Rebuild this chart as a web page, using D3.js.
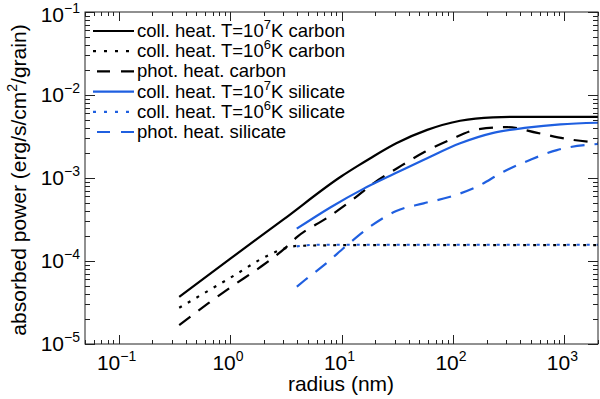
<!DOCTYPE html>
<html>
<head>
<meta charset="utf-8">
<script src="https://cdn.jsdelivr.net/npm/d3@7"></script>
<style>
  body { margin: 0; background: #fff; }
  svg text { font-family: "Liberation Sans", Arial, sans-serif; fill: #000; }
</style>
</head>
<body>
<svg id="chart" width="600" height="399"></svg>
<script>
// Data (radius in nm, absorbed power in erg/s/cm^2/grain)
var carbonColl7R = [0.35, 1, 3, 10, 14, 18, 31, 58.7, 116, 229, 400, 2000];
var carbonColl7P = [3.7e-5, 1.06e-4, 3.15e-4, 1.05e-3, 1.4e-3, 1.72e-3, 2.62e-3, 3.8e-3, 4.9e-3, 5.38e-3, 5.45e-3, 5.45e-3];

var carbonColl6R = [0.35, 1, 2.23, 3.1, 4, 10, 2000];
var carbonColl6P = [2.73e-5, 6.25e-5, 1.18e-4, 1.42e-4, 1.52e-4, 1.55e-4, 1.55e-4];

var carbonPhotR = [0.35, 0.64, 1.05, 1.79, 3.25, 4.0, 7.4, 12.4, 19.5, 31.3, 56, 94, 165, 307, 570, 1060, 2000];
var carbonPhotP = [1.69e-5, 3.1e-5, 5.0e-5, 8.1e-5, 1.5e-4, 1.95e-4, 3.3e-4, 5.4e-4, 8.7e-4, 1.3e-3, 2.07e-3, 2.88e-3, 3.85e-3, 4.1e-3, 3.5e-3, 2.95e-3, 2.66e-3];

var silColl7R = [3.97, 8, 15.7, 30, 58, 116, 230, 460, 920, 2000];
var silColl7P = [2.45e-4, 4.45e-4, 7.4e-4, 1.13e-3, 1.72e-3, 2.62e-3, 3.5e-3, 4.04e-3, 4.43e-3, 4.63e-3];

var silColl6R = [3.97, 6, 2000];
var silColl6P = [1.5e-4, 1.57e-4, 1.57e-4];

var silPhotR = [3.97, 4.7, 7.1, 11.2, 18.4, 31, 54.5, 94.5, 164, 284, 490, 855, 2000];
var silPhotP = [4.9e-5, 5.9e-5, 9.1e-5, 1.55e-4, 2.64e-4, 4.0e-4, 4.95e-4, 5.95e-4, 7.85e-4, 1.19e-3, 1.65e-3, 2.17e-3, 2.57e-3];

var xTickExps = [-1, 0, 1, 2, 3];
var yTickExps = [-5, -4, -3, -2, -1];

var legendLabels = [
  ["coll. heat. T=10", "7", "K carbon"],
  ["coll. heat. T=10", "6", "K carbon"],
  ["phot. heat. carbon"],
  ["coll. heat. T=10", "7", "K silicate"],
  ["coll. heat. T=10", "6", "K silicate"],
  ["phot. heat. silicate"]
];

var black = "#000", blue = "#1f5fe0";
var solidDash = null, dotDash = "3,7", longDash = "14,10";

var series = [
  { r: carbonColl7R, p: carbonColl7P, color: black, dash: solidDash },
  { r: carbonColl6R, p: carbonColl6P, color: black, dash: dotDash },
  { r: carbonPhotR, p: carbonPhotP, color: black, dash: longDash },
  { r: silColl7R, p: silColl7P, color: blue, dash: solidDash },
  { r: silColl6R, p: silColl6P, color: blue, dash: dotDash },
  { r: silPhotR, p: silPhotP, color: blue, dash: longDash }
];

var svg = d3.select("#chart");
var plotLeft = 85, plotRight = 598, plotTop = 12, plotBottom = 344;

var x = d3.scaleLog().domain([0.05, 2000]).range([plotLeft, plotRight]);
var y = d3.scaleLog().domain([1e-5, 1e-1]).range([plotBottom, plotTop]);

// Curves
var line = d3.line()
    .x(function(d) { return x(d[0]); })
    .y(function(d) { return y(d[1]); })
    .curve(d3.curveMonotoneX);

var plot = svg.append("g");
series.forEach(function(s) {
  var pts = s.r.map(function(r, i) { return [r, s.p[i]]; });
  plot.append("path")
      .attr("d", line(pts))
      .attr("fill", "none")
      .attr("stroke", s.color)
      .attr("stroke-width", 2.2)
      .attr("stroke-dasharray", s.dash);
});

// Frame and inward ticks
var axes = svg.append("g").attr("stroke", "#222").attr("stroke-width", 1);
axes.append("rect")
    .attr("x", plotLeft).attr("y", plotTop)
    .attr("width", plotRight - plotLeft).attr("height", plotBottom - plotTop)
    .attr("fill", "none");

function logTicks(domain) {
  var out = [];
  for (var e = -6; e <= 4; e++) {
    for (var m = 1; m <= 9; m++) {
      var v = m * Math.pow(10, e);
      if (v >= domain[0] * 0.999 && v <= domain[1] * 1.001) out.push({ v: v, major: m === 1 });
    }
  }
  return out;
}

logTicks(x.domain()).forEach(function(t) {
  var len = t.major ? 9 : 4, xx = Math.round(x(t.v)) + 0.5;
  axes.append("line").attr("x1", xx).attr("x2", xx).attr("y1", plotBottom).attr("y2", plotBottom - len);
  axes.append("line").attr("x1", xx).attr("x2", xx).attr("y1", plotTop).attr("y2", plotTop + len);
});
logTicks(y.domain()).forEach(function(t) {
  var len = t.major ? 10 : 5, yy = Math.round(y(t.v)) + 0.5;
  axes.append("line").attr("y1", yy).attr("y2", yy).attr("x1", plotLeft).attr("x2", plotLeft + len);
  axes.append("line").attr("y1", yy).attr("y2", yy).attr("x1", plotRight).attr("x2", plotRight - len);
});

// Tick labels
function powLabel(g, exp) {
  g.append("tspan").text("10");
  g.append("tspan").attr("dy", -9).attr("font-size", 14)
      .text(exp < 0 ? "\u2212" + (-exp) : String(exp));
}
xTickExps.forEach(function(e) {
  var t = svg.append("text")
      .attr("x", x(Math.pow(10, e)) - 2).attr("y", 370)
      .attr("text-anchor", "middle").attr("font-size", 21);
  powLabel(t, e);
});
yTickExps.forEach(function(e) {
  var t = svg.append("text")
      .attr("x", 80).attr("y", Math.max(y(Math.pow(10, e)) + 7, 22))
      .attr("text-anchor", "end").attr("font-size", 21);
  powLabel(t, e);
});

// Axis titles
svg.append("text")
    .attr("x", 341).attr("y", 391)
    .attr("text-anchor", "middle").attr("font-size", 21)
    .text("radius (nm)");

var yt = svg.append("text")
    .attr("transform", "translate(26,180) rotate(-90)")
    .attr("text-anchor", "middle").attr("font-size", 21);
yt.append("tspan").text("absorbed power (erg/s/cm");
yt.append("tspan").attr("dy", -9).attr("font-size", 14).text("2");
yt.append("tspan").attr("dy", 9).text("/grain)");

// Legend
var legend = svg.append("g");
legendLabels.forEach(function(lab, i) {
  var cy = 31 + i * 20.2, s = series[i];
  legend.append("line")
      .attr("x1", 93).attr("x2", 134).attr("y1", cy).attr("y2", cy)
      .attr("stroke", s.color).attr("stroke-width", 2.2)
      .attr("stroke-dasharray", s.dash === longDash ? "0,4,13,11,13" : s.dash === dotDash ? "3,8" : null);
  var t = legend.append("text").attr("x", 137).attr("y", cy + 6).attr("font-size", 18.5);
  t.append("tspan").text(lab[0]);
  if (lab.length > 1) {
    t.append("tspan").attr("dy", -8).attr("font-size", 13).text(lab[1]);
    t.append("tspan").attr("dy", 8).text(lab[2]);
  }
});
</script>
</body>
</html>
